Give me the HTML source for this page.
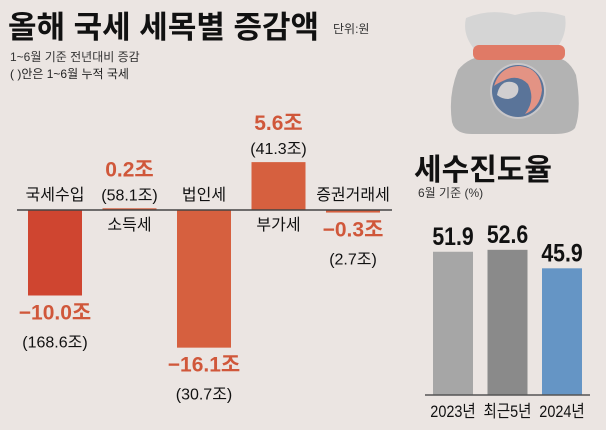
<!DOCTYPE html>
<html><head><meta charset="utf-8"><style>
body{margin:0;width:606px;height:425px;overflow:hidden;background:#ebe5e2;font-family:"Liberation Sans","Noto Sans CJK KR",sans-serif;}
</style></head><body>
<svg width="606" height="425" viewBox="0 0 606 425" xmlns="http://www.w3.org/2000/svg" id="root">
<rect width="606" height="425" fill="#ebe5e2"/>
<text x="8" y="38" font-size="31" font-weight="bold" fill="#111" font-family="Liberation Sans, Noto Sans CJK KR, sans-serif">올해 국세 세목별 증감액</text>
<text x="333" y="33" font-size="12" fill="#333" font-family="Liberation Sans, Noto Sans CJK KR, sans-serif">단위:원</text>
<text x="10" y="61" font-size="12" fill="#333" font-family="Liberation Sans, Noto Sans CJK KR, sans-serif">1~6월 기준 전년대비 증감</text>
<text x="10" y="78" font-size="12" fill="#222" font-family="Liberation Sans, Noto Sans CJK KR, sans-serif">( )안은 1~6월 누적 국세</text>
<g id="left"></g>
<line x1="17" y1="210" x2="392" y2="210" stroke="#444" stroke-width="1.5"/>

<g>
<path d="M466,18 Q490,8 515,15 Q540,8 565,16 Q568,35 555,50 L475,50 Q462,35 466,18Z" fill="#d5d5d5"/>
<path d="M458,70 Q470,55 490,56 L545,56 Q568,55 576,75 Q582,110 575,128 Q570,134 555,134 L472,134 Q455,134 452,122 Q448,95 458,70Z" fill="#b3b3b3"/>
<rect x="473" y="45" width="92" height="15" rx="6" fill="#e07a66"/>
<circle cx="518" cy="91" r="28" fill="#c9c7c9"/>
<circle cx="518" cy="91" r="26" fill="#5a7499"/>
<path d="M494,86 Q500,66 520,66 Q540,68 542,90 Q540,108 525,114 Q536,100 528,84 Q518,74 505,80 Q496,84 494,86Z" fill="#e39384"/>
<path d="M497,95 Q500,80 512,82 Q520,84 518,92 Q516,98 508,99 Q502,99 497,95Z" fill="#d0ced0"/>
</g>
<text x="414" y="180" font-size="30" font-weight="bold" fill="#111" font-family="Liberation Sans, Noto Sans CJK KR, sans-serif">세수진도율</text>
<text x="418" y="197" font-size="12" fill="#333" font-family="Liberation Sans, Noto Sans CJK KR, sans-serif">6월 기준 (%)</text>
<g id="right"></g>
<line x1="425" y1="395" x2="590" y2="395" stroke="#555" stroke-width="1.5"/>
</svg>
<script>
const categories=["국세수입","소득세","법인세","부가세","증권거래세"];
const changes=[-10.0,0.2,-16.1,5.6,-0.3];
const totals=["168.6","58.1","30.7","41.3","2.7"];
const progCats=["2023년","최근5년","2024년"];
const progVals=[51.9,52.6,45.9];

const NS="http://www.w3.org/2000/svg";
function mk(t,a,p){const e=document.createElementNS(NS,t);for(const k in a)e.setAttribute(k,a[k]);p.appendChild(e);return e;}
const F="Liberation Sans, Noto Sans CJK KR, sans-serif";
const base=210,scale=8.55;
const y=v=>base-v*scale;
const xL=i=>28+i*74.5;
const L=document.getElementById('left');
changes.forEach((v,i)=>{
  const x=xL(i),w=54,cx=x+w/2;
  const top=Math.min(y(v),base),h=Math.max(Math.abs(v*scale),2);
  const r=mk('rect',{x:x,y:top,width:w,height:h,fill:i===0?'#cf4530':'#d6603f'},L);
  
  
  let vy,ty,cy;
  if(v<0){vy=y(v)+24;ty=vy+28;cy=base-10;}
  else{ty=y(v)-8;vy=ty-24;cy=base+20;}
  const label=(v<0?'−':'')+Math.abs(v).toFixed(1)+'조';
  const t1=mk('text',{x:cx,y:vy,'font-size':21,'font-weight':'bold',fill:'#d0573a','text-anchor':'middle','font-family':F},L);
  t1.textContent=label;
  
  
  const t2=mk('text',{x:cx,y:ty,'font-size':16,fill:'#111','text-anchor':'middle','font-family':F},L);
  t2.textContent='('+totals[i]+'조)';
  
  
  const t3=mk('text',{x:cx,y:cy,'font-size':16,fill:'#111','text-anchor':'middle','font-family':F},L);
  t3.textContent=categories[i];
  
  
});
const R=document.getElementById('right');
const pb=395,ps=2.76;
const colors=['#a6a6a6','#8a8a8a','#6595c5'];
progVals.forEach((v,i)=>{
  const x=433+i*54.5,w=40,cx=x+w/2;
  const r=mk('rect',{x:x,y:pb-v*ps,width:w,height:v*ps,fill:colors[i]},R);
  
  
  const t=mk('text',{x:cx,y:pb-v*ps-7,'font-size':25,'font-weight':'bold',fill:'#111','text-anchor':'middle','font-family':F,transform:`translate(${cx},0) scale(0.85,1) translate(${-cx},0)`},R);
  t.textContent=v.toFixed(1);
  
  
  const c=mk('text',{x:cx,y:417,'font-size':17,fill:'#111','text-anchor':'middle','font-family':F,transform:`translate(${cx},0) scale(0.85,1) translate(${-cx},0)`},R);
  c.textContent=progCats[i];
  
  
});
</script>
</body></html>
